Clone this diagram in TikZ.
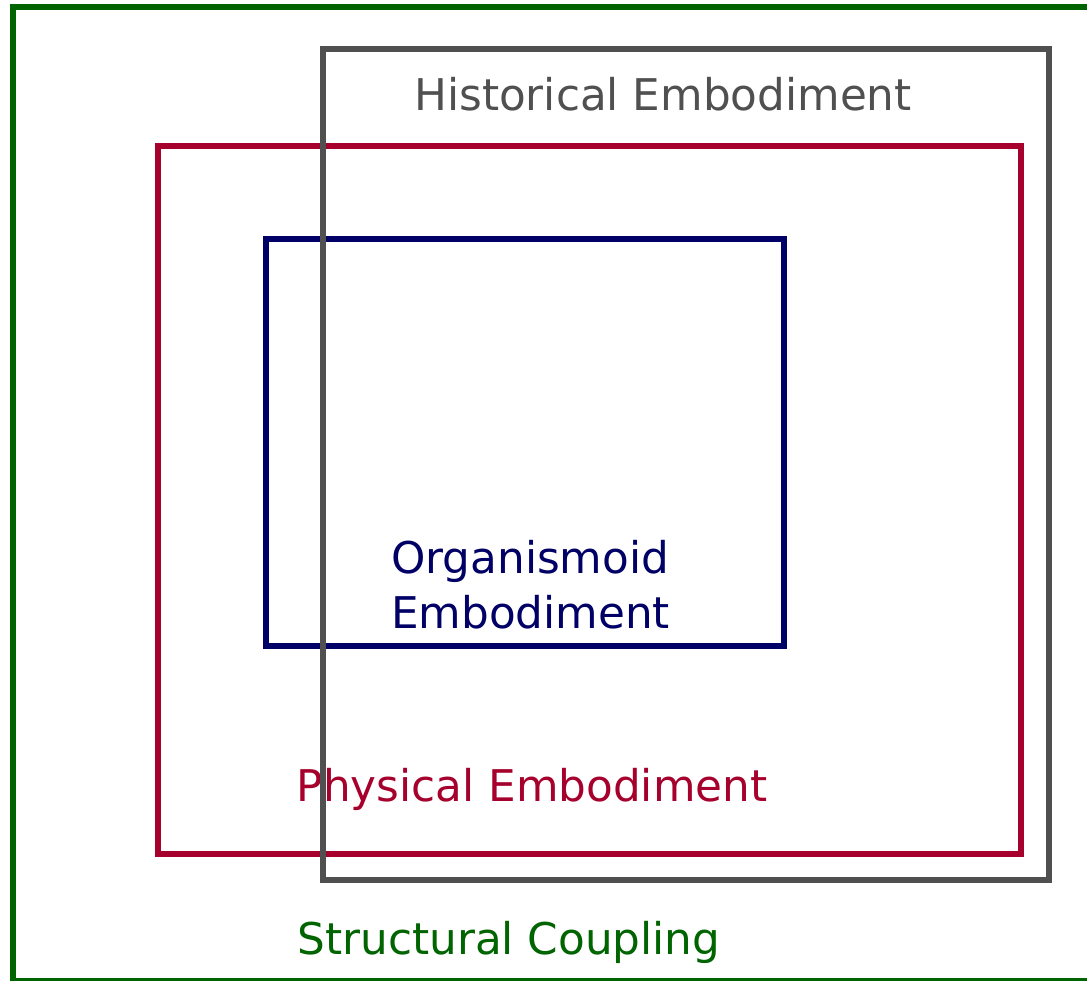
\documentclass[tikz,border=0pt]{standalone}
\usepackage{fontspec}
\setmainfont{DejaVu Sans}
\definecolor{cgreen}{HTML}{006400}
\definecolor{cgray}{HTML}{505050}
\definecolor{cred}{HTML}{A6002C}
\definecolor{cblue}{HTML}{000066}
\tikzset{
  lbl/.style={font=\fontsize{43.7}{52}\selectfont, inner sep=0pt},
  frame/.style={line width=#1, line join=miter},
}
\begin{document}
\begin{tikzpicture}[x=1pt,y=-1pt]
\useasboundingbox (0,0) rectangle (1087,980);
\clip (0,0) rectangle (1087,980);
\fill[white] (0,0) rectangle (1087,980);
% outer green frame
\draw[frame=6pt, cgreen] (13,7) rectangle (1110,981);
% red frame
\draw[frame=6pt, cred] (158,146) rectangle (1021,854);
% blue frame
\draw[frame=5.5pt, cblue] (266,239) rectangle (784,646);
% labels
\node[lbl, text=cgray, anchor=base] (hist) at (663,110) {Historical Embodiment};
\node[lbl, text=cblue, anchor=base west] (org1) at (391,573) {Organismoid};
\node[lbl, text=cblue, anchor=base west] (org2) at (391,628) {Embodiment};
\node[lbl, text=cred, anchor=base] (phys) at (532,801) {Physical Embodiment};
\node[lbl, text=cgreen, anchor=base] (struc) at (509,954) {Structural Coupling};
% gray frame on top
\draw[frame=6pt, cgray] (323,49) rectangle (1049,880);
\end{tikzpicture}
\end{document}
